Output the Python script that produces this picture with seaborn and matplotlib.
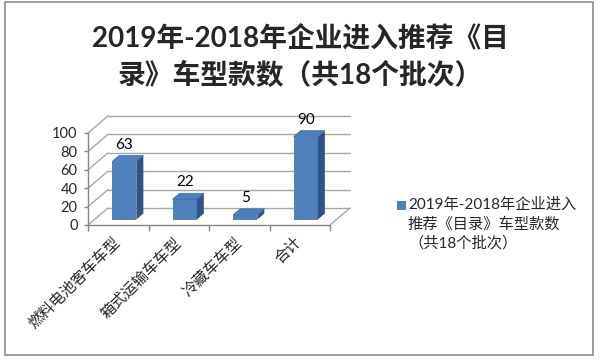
import numpy as np
import pandas as pd
import matplotlib
matplotlib.use('Agg')
import matplotlib.pyplot as plt
import matplotlib.transforms as mtransforms
from matplotlib.patches import Polygon, Rectangle
import seaborn as sns

# ---- data ----
categories = ['燃料电池客车车型', '箱式运输车车型', '冷藏车车型', '合计']
values = [63, 22, 5, 90]
series_name = '2019年-2018年企业进入\n推荐《目录》车型款数\n（共18个批次）'
title_lines = ['2019年-2018年企业进入推荐《目', '录》车型款数（共18个批次）']
yticks = [0, 20, 40, 60, 80, 100]

sns.set_theme(style='white')
plt.rcParams['font.family'] = ['Lato', 'Noto Sans CJK SC', 'DejaVu Sans']

W, H = 600, 361
fig = plt.figure(figsize=(W / 100, H / 100), dpi=100)
fig.patch.set_facecolor('white')
ax = fig.add_axes([88 / W, (H - 225) / H, 242 / W, 92 / H])
ax.set_facecolor('none')

df = pd.DataFrame({'cat': categories, 'val': values})
sns.barplot(data=df, x='cat', y='val', ax=ax, color='#4f81bd', saturation=1,
            width=0.4, zorder=3, linewidth=0)
ax.set_xlim(-0.5, len(categories) - 0.5)
ax.set_ylim(0, 100)
ax.set_xlabel('')
ax.set_ylabel('')

# pixel -> data conversion
p0 = ax.transData.transform((0, 0))
p1 = ax.transData.transform((1, 1))
sx, sy = p1[0] - p0[0], p1[1] - p0[1]

def off(px, py):
    return px / sx, py / sy

grid_c = '#a6a6a6'
axis_c = '#868686'

# back wall / side wall / floor lines
bdx, bdy = off(20, 17)
x0, x1 = ax.get_xlim()
for v in yticks:
    ax.plot([x0, x0 + bdx], [v, v + bdy], color=grid_c, lw=1.0, clip_on=False, zorder=1)
    ax.plot([x0 + bdx, x1 + bdx], [v + bdy, v + bdy], color=grid_c, lw=1.0,
            clip_on=False, zorder=1)
ax.plot([x1, x1 + bdx], [0, bdy], color=grid_c, lw=1.0, clip_on=False, zorder=1)

# bars: shift into the middle plane and add 3D faces
bar_off = mtransforms.ScaledTranslation(6 / 100, 5.5 / 100, fig.dpi_scale_trans)
btr = ax.transData + bar_off
ddx, ddy = off(7, 6)
bars = [p for p in ax.patches if isinstance(p, Rectangle)]
for p, v in zip(bars, values):
    p.set_transform(btr)
    p.set_clip_on(False)
    x, w, h = p.get_x(), p.get_width(), p.get_height()
    side = Polygon([(x + w, 0), (x + w + ddx, ddy), (x + w + ddx, h + ddy), (x + w, h)],
                   closed=True, facecolor='#2f5385', edgecolor='none',
                   transform=btr, zorder=3, clip_on=False)
    top = Polygon([(x, h), (x + w, h), (x + w + ddx, h + ddy), (x + ddx, h + ddy)],
                  closed=True, facecolor='#4a7fc0', edgecolor='#3b6aa5', lw=0.5,
                  transform=btr, zorder=3, clip_on=False)
    ax.add_patch(side)
    ax.add_patch(top)
    lab_tr = ax.transData + mtransforms.ScaledTranslation(6 / 100, (5.5 + 17) / 100,
                                                          fig.dpi_scale_trans)
    ax.text(x + w / 2, h, str(v), transform=lab_tr, ha='center', va='center',
            fontsize=11, color='black', zorder=4)

# axes
for s in ['top', 'right']:
    ax.spines[s].set_visible(False)
for s in ['left', 'bottom']:
    ax.spines[s].set_color(axis_c)
    ax.spines[s].set_linewidth(1.0)
    ax.spines[s].set_zorder(2)

ax.set_yticks(yticks)
ax.set_yticklabels([str(t) for t in yticks])
ax.tick_params(axis='y', which='major', length=3, width=1, color=axis_c, pad=4.5,
               labelsize=10.5, direction='out', left=True)
ax.set_xticks(np.arange(-0.5, len(categories), 1), minor=True)
ax.set_xticks(range(len(categories)))
ax.set_xticklabels(categories, rotation=45, ha='right', va='center',
                   rotation_mode='anchor')
ax.tick_params(axis='x', which='minor', length=4, width=1, color=axis_c,
               direction='out', bottom=True)
ax.tick_params(axis='x', which='major', length=0, pad=11, labelsize=11)

# title
fig.text(0.5, 1 - 38 / H, title_lines[0], ha='center', va='center',
         fontsize=20, fontweight='bold')
fig.text(0.5, 1 - 75 / H, title_lines[1], ha='center', va='center',
         fontsize=20, fontweight='bold')

# legend
fig.add_artist(Rectangle((397 / W, 1 - 210 / H), 9 / W, 9 / H, facecolor='#4f81bd',
                         edgecolor='none', transform=fig.transFigure))
for i, line in enumerate(series_name.split('\n')):
    fig.text(408 / W, 1 - (205 + 19 * i) / H, line, ha='left', va='center',
             fontsize=11)

# outer border
fig.add_artist(Rectangle((5 / W, 6 / H), 588 / W, 353 / H, facecolor='none',
                         edgecolor='#8c8c8c', lw=1.2, transform=fig.transFigure))

fig.savefig('out.png', dpi=100)
